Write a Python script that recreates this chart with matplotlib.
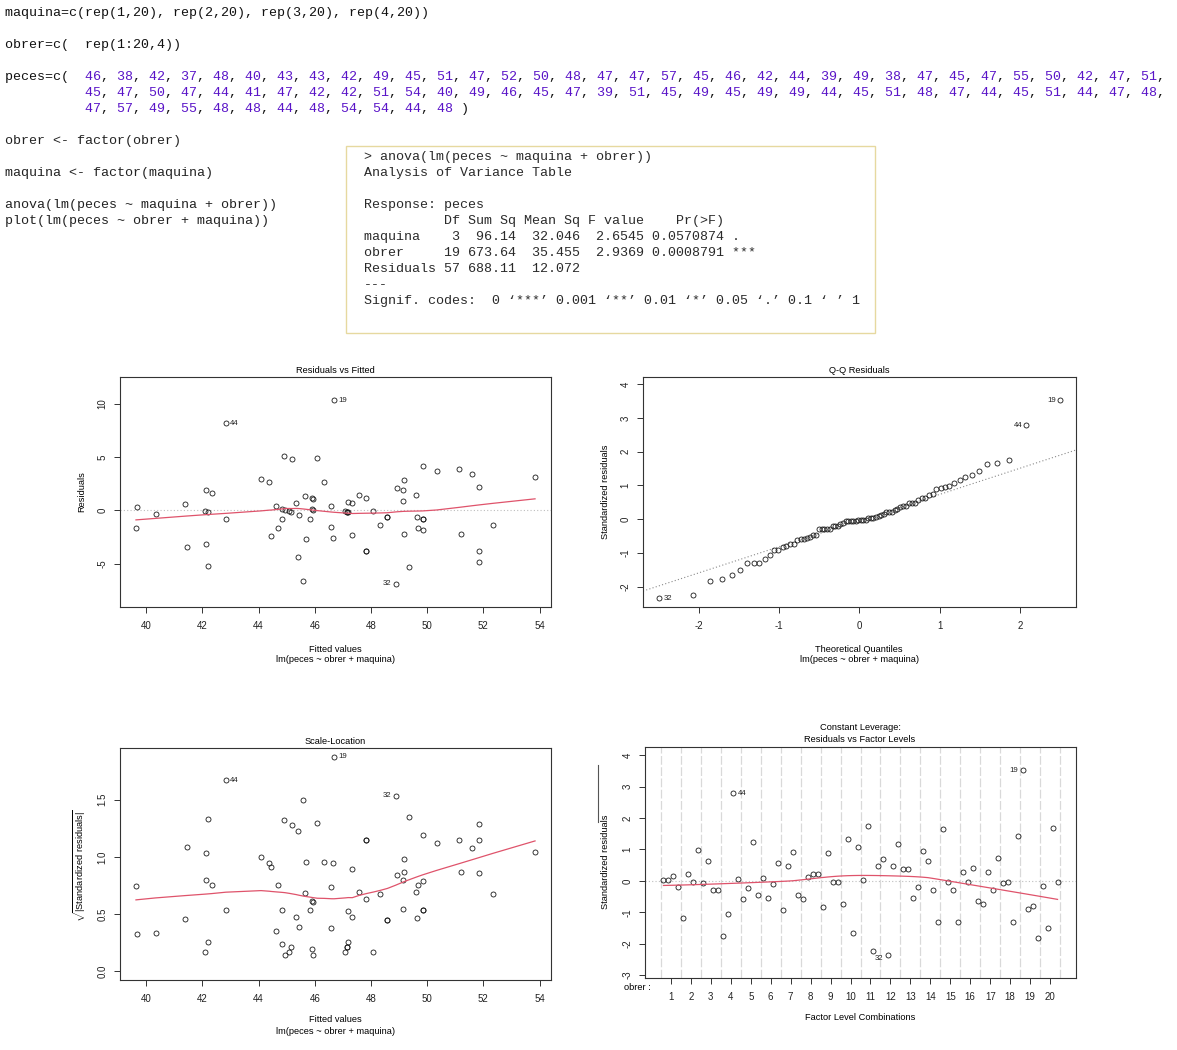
import statistics
import numpy as np
import matplotlib
matplotlib.use("Agg")
import matplotlib.pyplot as plt
from matplotlib.lines import Line2D
from matplotlib.patches import Rectangle

# data as typed in the R session shown in the picture
maquina = [1] * 20 + [2] * 20 + [3] * 20 + [4] * 20
obrer = list(range(1, 21)) * 4
peces = [46, 38, 42, 37, 48, 40, 43, 43, 42, 49, 45, 51, 47, 52, 50, 48, 47, 47, 57, 45,
         46, 42, 44, 39, 49, 38, 47, 45, 47, 55, 50, 42, 47, 51, 45, 47, 50, 47, 44, 41,
         47, 42, 42, 51, 54, 40, 49, 46, 45, 47, 39, 51, 45, 49, 45, 49, 49, 44, 45, 51,
         48, 47, 44, 45, 51, 44, 47, 48, 47, 57, 49, 55, 48, 48, 44, 48, 54, 54, 44, 48]

code_lines = ["maquina=c(rep(1,20), rep(2,20), rep(3,20), rep(4,20))",
              "obrer=c(  rep(1:20,4))"]
code_tail = ["obrer <- factor(obrer)",
             "maquina <- factor(maquina)",
             "anova(lm(peces ~ maquina + obrer))",
             "plot(lm(peces ~ obrer + maquina))"]
anova_lines = ["> anova(lm(peces ~ maquina + obrer))",
               "Analysis of Variance Table",
               "",
               "Response: peces",
               "          Df Sum Sq Mean Sq F value    Pr(>F)    ",
               "maquina    3  96.14  32.046  2.6545 0.0570874 .  ",
               "obrer     19 673.64  35.455  2.9369 0.0008791 ***",
               "Residuals 57 688.11  12.072                      ",
               "---",
               "Signif. codes:  0 \u2018***\u2019 0.001 \u2018**\u2019 0.01 \u2018*\u2019 0.05 \u2018.\u2019 0.1 \u2018 \u2019 1"]
model_label = "lm(peces ~ obrer + maquina)"

W, H = 1177, 1050
MONO = ["Liberation Mono", "DejaVu Sans Mono"]
SANS = ["Liberation Sans", "DejaVu Sans"]
RED = "#DF536B"
LAB = 6.7
plt.rcParams["font.family"] = SANS
plt.rcParams["axes.unicode_minus"] = False
plt.rcParams["mathtext.fontset"] = "custom"
plt.rcParams["mathtext.rm"] = "Liberation Sans"


def lowess(x, y, f=2 / 3, iters=3):
    # port of R's clowess
    order = np.argsort(x, kind="stable")
    x = np.asarray(x, float)[order]
    y = np.asarray(y, float)[order]
    n = len(x)
    ns = max(2, min(n, int(f * n + 1e-7)))
    delta = 0.01 * (x[-1] - x[0])
    rw = np.ones(n)
    ys = np.zeros(n)
    xrange_ = x[-1] - x[0]

    def lowest(xs, nleft, nright, userw):
        h = max(xs - x[nleft], x[nright] - xs)
        h9, h1 = 0.999 * h, 0.001 * h
        w = np.zeros(n)
        a = 0.0
        j = nleft
        while j < n:
            r = abs(x[j] - xs)
            if r <= h9:
                w[j] = 1.0 if r <= h1 else (1 - (r / h) ** 3) ** 3
                if userw:
                    w[j] *= rw[j]
                a += w[j]
            elif x[j] > xs:
                break
            j += 1
        nrt = j - 1
        if a <= 0:
            return None
        sl = slice(nleft, nrt + 1)
        w[sl] /= a
        if h > 0:
            a = np.sum(w[sl] * x[sl])
            b = xs - a
            c = np.sum(w[sl] * (x[sl] - a) ** 2)
            if np.sqrt(c) > 0.001 * xrange_:
                b /= c
                w[sl] *= (b * (x[sl] - a) + 1)
        return np.sum(w[sl] * y[sl])

    it = 1
    while it <= iters + 1:
        nleft, nright, last, i = 0, ns - 1, -1, 0
        while True:
            while nright < n - 1:
                if x[i] - x[nleft] <= x[nright + 1] - x[i]:
                    break
                nleft += 1
                nright += 1
            v = lowest(x[i], nleft, nright, it > 1)
            ys[i] = y[i] if v is None else v
            if last < i - 1:
                denom = x[i] - x[last]
                for j in range(last + 1, i):
                    al = (x[j] - x[last]) / denom
                    ys[j] = al * ys[i] + (1 - al) * ys[last]
            last = i
            cut = x[last] + delta
            i = last + 1
            while i < n:
                if x[i] > cut:
                    break
                if x[i] == x[last]:
                    ys[i] = ys[last]
                    last = i
                i += 1
            i = max(last + 1, i - 1)
            if last >= n - 1:
                break
        res = y - ys
        sc = np.mean(np.abs(res))
        if it > iters:
            break
        r = np.abs(res)
        cmad = 6 * np.median(r)
        if cmad < 1e-7 * sc:
            break
        rw = np.where(r <= 0.001 * cmad, 1.0,
                      np.where(r <= 0.999 * cmad, (1 - (r / cmad) ** 2) ** 2, 0.0))
        it += 1
    return x, ys


# fit peces ~ obrer + maquina
y = np.array(peces, float)
ob = np.array(obrer)
mq = np.array(maquina)
X = np.column_stack([np.ones(len(y))] +
                    [(ob == k).astype(float) for k in range(2, 21)] +
                    [(mq == k).astype(float) for k in range(2, 5)])
beta = np.linalg.lstsq(X, y, rcond=None)[0]
fitted = X @ beta
resid = y - fitted
hat = np.diag(X @ np.linalg.pinv(X.T @ X) @ X.T)
s = np.sqrt(np.sum(resid ** 2) / (len(y) - X.shape[1]))
rs = resid / (s * np.sqrt(1 - hat))
show = np.argsort(-np.abs(rs), kind="stable")[:3]


def rlim(lo, hi, f=0.04):
    d = (hi - lo) * f
    return lo - d, hi + d


def box(l, t, r, b):
    return [l / W, 1 - b / H, (r - l) / W, (b - t) / H]


def ftext(x, y_, s, **kw):
    fig.text(x / W, 1 - y_ / H, s, **kw)


def style(ax):
    for sp in ax.spines.values():
        sp.set_color("#333333")
        sp.set_linewidth(0.8)
    ax.tick_params(direction="out", length=4, width=0.7, colors="#333333",
                   labelsize=7, labelcolor="#222222")
    ax.tick_params(axis="x", pad=6)
    ax.tick_params(axis="y", pad=5)
    for lab in ax.get_yticklabels():
        lab.set_rotation(90)
        lab.set_va("center")


def pts(ax, xv, yv):
    ax.plot(xv, yv, "o", ms=3.6, mfc="none", mec="#1a1a1a", mew=0.6, zorder=3)


def idlabels(ax, xv, yv, ids):
    mid = (np.min(xv) + np.max(xv)) / 2
    for k in ids:
        right = xv[k] <= mid
        ax.annotate(str(k + 1), (xv[k], yv[k]), xytext=(3 if right else -3, 0),
                    textcoords="offset points", ha="left" if right else "right",
                    va="center", fontsize=5.6, color="#222222", annotation_clip=False)


fig = plt.figure(figsize=(W / 100, H / 100), dpi=100)
fig.patch.set_facecolor("white")

# ---- code text on top
ftext(5, 13, code_lines[0], family=MONO, fontsize=9.6, va="center", color="#111111")
ftext(5, 45, code_lines[1], family=MONO, fontsize=9.6, va="center", color="#111111")
chunks = [peces[0:34], peces[34:68], peces[68:80]]
for i, ch in enumerate(chunks):
    pre = "peces=c(  " if i == 0 else " " * 10
    row = pre + ", ".join(str(v) for v in ch) + ("," if i < 2 else " )")
    black = "".join(" " if c.isdigit() else c for c in row)
    purple = "".join(c if c.isdigit() else " " for c in row)
    ftext(5, 77 + 16 * i, black, family=MONO, fontsize=9.6, va="center", color="#111111")
    ftext(5, 77 + 16 * i, purple, family=MONO, fontsize=9.6, va="center", color="#5A14C8")
for yy, line in zip([141, 173, 205, 221], code_tail):
    ftext(5, yy, line, family=MONO, fontsize=9.6, va="center", color="#222222")

fig.patches.append(Rectangle((346 / W, 1 - 333 / H), 529 / W, 187 / H, transform=fig.transFigure,
                             fc="white", ec="#E6D9A0", lw=1.0))
for i, line in enumerate(anova_lines):
    ftext(364, 157 + 16 * i, line, family=MONO, fontsize=9.6, va="center", color="#2a2a2a")

# ---- Residuals vs Fitted
ax1 = fig.add_axes(box(120, 377, 551, 607))
pts(ax1, fitted, resid)
lx, ly = lowess(fitted, resid)
ax1.plot(lx, ly, color=RED, lw=0.9, zorder=4)
ax1.axhline(0, color="#BEBEBE", lw=0.8, ls=(0, (1, 2)), zorder=1)
ax1.set_xlim(*rlim(fitted.min(), fitted.max()))
ax1.set_ylim(*rlim(*rlim(resid.min(), resid.max(), 0.08)))
ax1.set_xticks(range(40, 55, 2))
ax1.set_yticks([-5, 0, 5, 10])
style(ax1)
idlabels(ax1, fitted, resid, show)
ftext(335, 370, "Residuals vs Fitted", fontsize=LAB, ha="center", va="center")
ftext(335, 649, "Fitted values", fontsize=LAB, ha="center", va="center")
ftext(335, 660, model_label, fontsize=LAB, ha="center", va="center")
ftext(82, 492, "Residuals", fontsize=LAB, ha="center", va="center", rotation=90)

# ---- Q-Q Residuals
ax2 = fig.add_axes(box(643, 377, 1076, 607))
n = len(rs)
nd = statistics.NormalDist()
pp = [(i - 0.5) / n for i in range(1, n + 1)]
qx = np.empty(n)
qx[np.argsort(rs, kind="stable")] = [nd.inv_cdf(p) for p in pp]
pts(ax2, qx, rs)
q1, q3 = np.quantile(rs, [0.25, 0.75])
z1, z3 = nd.inv_cdf(0.25), nd.inv_cdf(0.75)
slope = (q3 - q1) / (z3 - z1)
ax2.axline((z1, q1), slope=slope, color="#8A8A8A", lw=0.8, ls=(0, (1, 2)), zorder=1)
ax2.set_xlim(*rlim(qx.min(), qx.max()))
ax2.set_ylim(*rlim(rs.min(), rs.max() + (rs.max() - rs.min()) * 0.075))
ax2.set_xticks([-2, -1, 0, 1, 2])
ax2.set_yticks(range(-2, 5))
style(ax2)
idlabels(ax2, qx, rs, show)
ftext(859, 370, "Q-Q Residuals", fontsize=LAB, ha="center", va="center")
ftext(859, 649, "Theoretical Quantiles", fontsize=LAB, ha="center", va="center")
ftext(859, 660, model_label, fontsize=LAB, ha="center", va="center")
ftext(606, 492, "Standardized residuals", fontsize=LAB, ha="center", va="center", rotation=90)

# ---- Scale-Location
ax3 = fig.add_axes(box(120, 748, 551, 980))
sq = np.sqrt(np.abs(rs))
pts(ax3, fitted, sq)
lx, ly = lowess(fitted, sq)
ax3.plot(lx, ly, color=RED, lw=0.9, zorder=4)
ax3.set_xlim(*rlim(fitted.min(), fitted.max()))
ax3.set_ylim(*rlim(0, sq.max()))
ax3.set_xticks(range(40, 55, 2))
ax3.set_yticks([0.0, 0.5, 1.0, 1.5])
ax3.set_yticklabels(["0.0", "0.5", "1.0", "1.5"])
style(ax3)
idlabels(ax3, fitted, sq, show)
ftext(335, 742, "Scale-Location", fontsize=LAB, ha="center", va="center")
ftext(335, 1020, "Fitted values", fontsize=LAB, ha="center", va="center")
ftext(335, 1031, model_label, fontsize=LAB, ha="center", va="center")
ftext(80, 866, r"$\sqrt{|\mathrm{Standardized\ residuals}|}$", fontsize=LAB,
      ha="center", va="center", rotation=90)

# ---- Constant Leverage: Residuals vs Factor Levels
ax4 = fig.add_axes(box(645, 747, 1076, 978))
nlev = [20, 4]
ff = [nlev[1], 1]
facval = (ob - 1) * ff[0] + (mq - 1) * ff[1]
for k in range(nlev[0] + 1):
    ax4.axvline(ff[0] * k - 0.5, color="#D9D9D9", lw=0.9, ls=(0, (7, 2)), zorder=1)
pts(ax4, facval, rs)
lx, ly = lowess(facval, rs)
ax4.plot(lx, ly, color=RED, lw=0.9, zorder=4)
ax4.axhline(0, color="#BEBEBE", lw=0.8, ls=(0, (1, 2)), zorder=1)
ax4.set_xlim(*rlim(-0.5, sum((l - 1) * f for l, f in zip(nlev, ff)) + 0.5))
ax4.set_ylim(*rlim(*rlim(rs.min(), rs.max(), 0.08)))
ax4.set_xticks([ff[0] * (i - 0.5) - 0.5 for i in range(1, nlev[0] + 1)])
ax4.set_xticklabels([str(i) for i in range(1, nlev[0] + 1)])
ax4.set_yticks(range(-3, 5))
style(ax4)
y_id = rs.copy()
y_id[y_id < 0] -= 0.12
idlabels(ax4, facval.astype(float), y_id, show)
ftext(860, 728, "Constant Leverage:", fontsize=LAB, ha="center", va="center")
ftext(860, 739, "Residuals vs Factor Levels", fontsize=LAB, ha="center", va="center")
ftext(637, 987, "obrer :", fontsize=LAB, ha="center", va="center")
ftext(860, 1017, "Factor Level Combinations", fontsize=LAB, ha="center", va="center")
ftext(606, 862, "Standardized residuals", fontsize=LAB, ha="center", va="center", rotation=90)
fig.add_artist(Line2D([598 / W, 598 / W], [1 - 765 / H, 1 - 822 / H], color="#555555", lw=0.8))

fig.savefig("out.png", dpi=100)
